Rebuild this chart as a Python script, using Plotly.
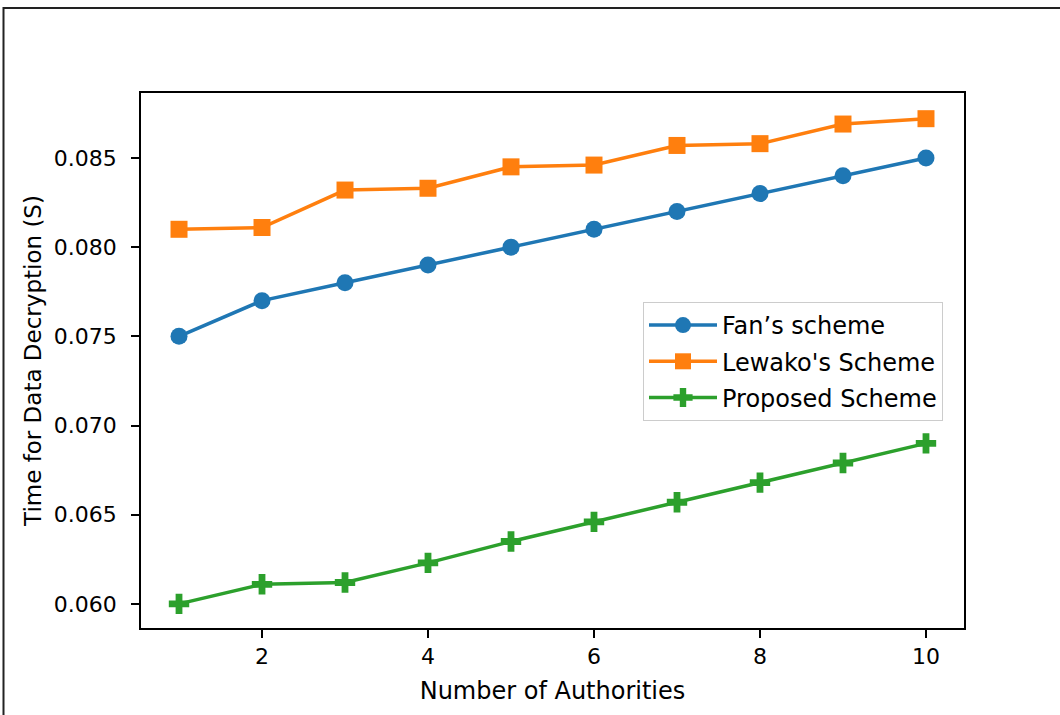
import plotly.graph_objects as go

# Number of authorities on the x axis
authorities = [1, 2, 3, 4, 5, 6, 7, 8, 9, 10]

# Decryption time (seconds) for each scheme
fan_scheme = [0.075, 0.077, 0.078, 0.079, 0.080, 0.081, 0.082, 0.083, 0.084, 0.085]
lewako_scheme = [0.0810, 0.0811, 0.0832, 0.0833, 0.0845, 0.0846, 0.0857, 0.0858, 0.0869, 0.0872]
proposed_scheme = [0.0600, 0.0611, 0.0612, 0.0623, 0.0635, 0.0646, 0.0657, 0.0668, 0.0679, 0.0690]

series = [
    ("Fan\u2019s scheme", fan_scheme, "#1f77b4", "circle"),
    ("Lewako's Scheme", lewako_scheme, "#ff7f0e", "square"),
    ("Proposed Scheme", proposed_scheme, "#2ca02c", "cross"),
]

FONT = "DejaVu Sans"

fig = go.Figure()
for name, values, color, symbol in series:
    fig.add_trace(go.Scatter(
        x=authorities, y=values, name=name, mode="lines+markers",
        legendgroup=name,
        line=dict(color=color, width=3.5),
        marker=dict(symbol=symbol, size=17, color=color, line=dict(width=0)),
    ))

L, R, T, B = 141, 96, 93, 87
W, H = 1060, 715
pw, ph = W - L - R, H - T - B

fig.update_layout(
    width=W, height=H,
    margin=dict(l=L, r=R, t=T, b=B),
    paper_bgcolor="white", plot_bgcolor="white",
    font=dict(family=FONT, size=22, color="#000000"),
    showlegend=True,
    legend=dict(
        x=(643 - L) / pw, y=1 - (302 - T) / ph, xanchor="left", yanchor="top",
        bgcolor="rgba(255,255,255,0.8)", bordercolor="#cccccc", borderwidth=1,
        font=dict(family=FONT, size=24), itemwidth=68,
        tracegroupgap=2,
    ),
    xaxis=dict(
        range=[0.542, 10.458], tickmode="array", tickvals=[2, 4, 6, 8, 10],
        ticks="outside", ticklen=8, tickwidth=1.5, tickcolor="#000",
        showline=True, linecolor="#000", linewidth=1.5, mirror=True,
        showgrid=False, zeroline=False,
        title=dict(text="Number of Authorities", standoff=14, font=dict(size=24)),
    ),
    yaxis=dict(
        range=[0.05865, 0.08864], tickmode="linear", tick0=0.06, dtick=0.005,
        tickformat=".3f", ticklabelstandoff=10,
        ticks="outside", ticklen=8, tickwidth=1.5, tickcolor="#000",
        showline=True, linecolor="#000", linewidth=1.5, mirror=True,
        showgrid=False, zeroline=False,
        title=dict(text="Time for Data Decryption (S)", standoff=6, font=dict(size=23)),
    ),
    shapes=[
        # Outer frame around the figure
        dict(type="rect", xref="paper", yref="paper",
             x0=(3.5 - L) / pw, x1=(1075 - L) / pw,
             y0=-(H + 20 - T - ph) / ph, y1=1 + (T - 8) / ph,
             line=dict(color="#222222", width=2), fillcolor="rgba(0,0,0,0)",
             layer="below"),
    ],
)

fig.write_html("out.html")
